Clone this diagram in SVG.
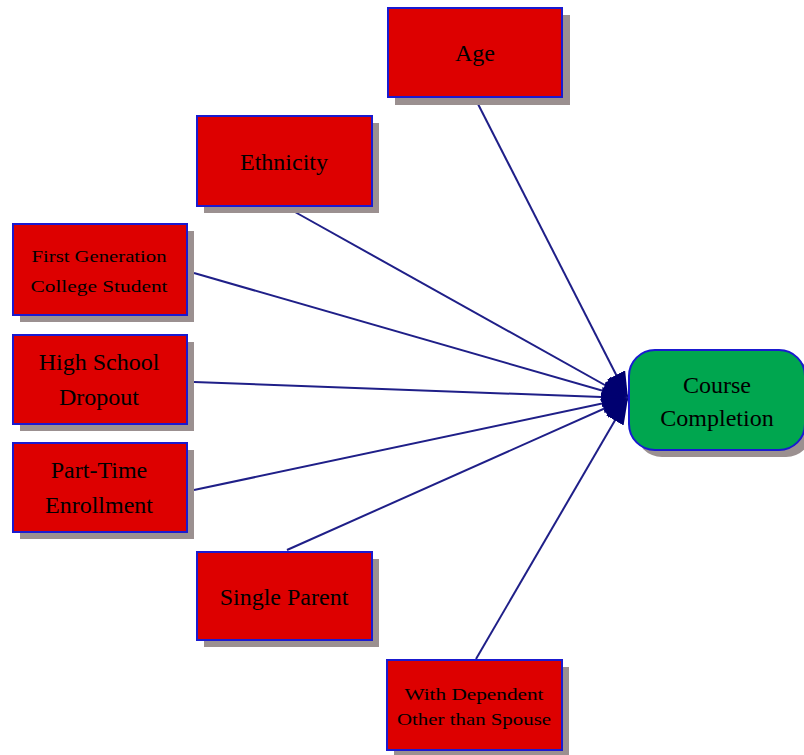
<svg xmlns="http://www.w3.org/2000/svg" width="804" height="755" viewBox="0 0 804 755">
  <style>
    .shadow { fill: #9b9090; }
    .box { fill: #dd0000; stroke: #1a1ad0; stroke-width: 2; }
    .goal { fill: #00a64f; stroke: #1a1ad0; stroke-width: 2; }
    .lbl { font-family: "Liberation Serif", "Times New Roman", serif; fill: #000; text-anchor: middle; }
    .big { font-size: 24px; }
    .small { font-size: 17px; }
    .edge { stroke: #1f1f88; stroke-width: 2; fill: none; marker-end: url(#head); }
  </style>
  <defs>
    <marker id="head" markerUnits="userSpaceOnUse" markerWidth="28" markerHeight="22" refX="26" refY="10" orient="auto">
      <path d="M0,0 L26,10 L0,20 Z" fill="#000070"/>
    </marker>
  </defs>
  <rect width="804" height="755" fill="#fff"/>

  <g id="connectors">
    <line class="edge" x1="478" y1="104" x2="628" y2="398"/>
    <line class="edge" x1="295" y1="212" x2="628" y2="398"/>
    <line class="edge" x1="194" y1="273" x2="628" y2="398"/>
    <line class="edge" x1="194" y1="382" x2="628" y2="398"/>
    <line class="edge" x1="194" y1="490" x2="628" y2="398"/>
    <line class="edge" x1="287" y1="550" x2="628" y2="398"/>
    <line class="edge" x1="476" y1="659" x2="628" y2="398"/>
  </g>

  <g id="age">
    <rect class="shadow" x="395" y="15" width="175" height="90"/>
    <rect class="box" x="388" y="8" width="174" height="89"/>
    <text class="lbl big" x="475" y="61">Age</text>
  </g>

  <g id="ethnicity">
    <rect class="shadow" x="204" y="123" width="175" height="90"/>
    <rect class="box" x="197" y="116" width="175" height="90"/>
    <text class="lbl big" x="284" y="170">Ethnicity</text>
  </g>

  <g id="first-generation">
    <rect class="shadow" x="20" y="231" width="174" height="91"/>
    <rect class="box" x="13" y="224" width="174" height="91"/>
    <text class="lbl small" x="99" y="262" textLength="135" lengthAdjust="spacingAndGlyphs">First Generation</text>
    <text class="lbl small" x="99" y="292" textLength="137" lengthAdjust="spacingAndGlyphs">College Student</text>
  </g>

  <g id="high-school-dropout">
    <rect class="shadow" x="20" y="342" width="174" height="89"/>
    <rect class="box" x="13" y="335" width="174" height="89"/>
    <text class="lbl big" x="99" y="370">High School</text>
    <text class="lbl big" x="99" y="405">Dropout</text>
  </g>

  <g id="part-time-enrollment">
    <rect class="shadow" x="20" y="450" width="174" height="89"/>
    <rect class="box" x="13" y="443" width="174" height="89"/>
    <text class="lbl big" x="99" y="478">Part-Time</text>
    <text class="lbl big" x="99" y="513">Enrollment</text>
  </g>

  <g id="single-parent">
    <rect class="shadow" x="204" y="559" width="175" height="88"/>
    <rect class="box" x="197" y="552" width="175" height="88"/>
    <text class="lbl big" x="284" y="605">Single Parent</text>
  </g>

  <g id="with-dependent">
    <rect class="shadow" x="394" y="667" width="175" height="90"/>
    <rect class="box" x="387" y="660" width="175" height="90"/>
    <text class="lbl small" x="474" y="700" textLength="139" lengthAdjust="spacingAndGlyphs">With Dependent</text>
    <text class="lbl small" x="474" y="725" textLength="154" lengthAdjust="spacingAndGlyphs">Other than Spouse</text>
  </g>

  <g id="course-completion">
    <rect class="shadow" x="636" y="357" width="176" height="100" rx="26" ry="26"/>
    <rect class="goal" x="629" y="350" width="176" height="100" rx="26" ry="26"/>
    <text class="lbl big" x="717" y="393">Course</text>
    <text class="lbl big" x="717" y="426">Completion</text>
  </g>
</svg>
